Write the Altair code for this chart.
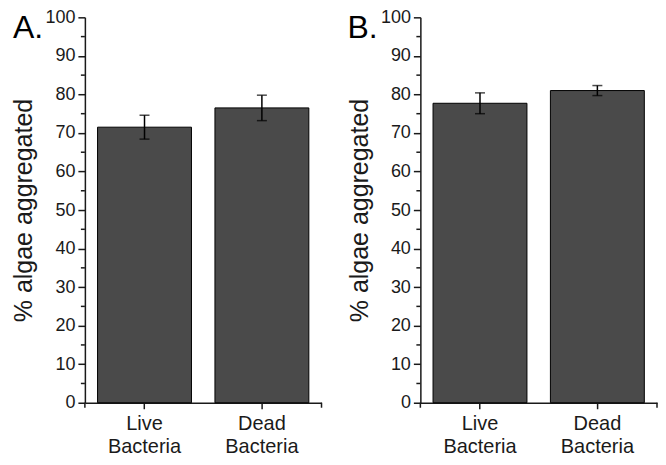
import altair as alt
import pandas as pd

categories = ["Live Bacteria", "Dead Bacteria"]
a_means = [71.5, 76.5]
a_errs = [3.1, 3.3]
b_means = [77.7, 81.0]
b_errs = [2.7, 1.3]
y_ticks = list(range(0, 101, 10))
y_minor = list(range(5, 100, 10))
panel_labels = ["A.", "B."]

FONT = "Liberation Sans"
W, H = 237, 386
INK = "#1a1a1a"

XAXIS = alt.Axis(
    title=None, labelAngle=0, labelExpr="split(datum.label, ' ')",
    labelFont=FONT, labelFontSize=20, labelLineHeight=23,
    labelColor=INK, labelPadding=5, tickSize=6, tickWidth=1.5,
    tickColor=INK, domainColor=INK, domainWidth=1.5, grid=False,
    labelBaseline="top",
)
YAXIS = alt.Axis(
    values=y_ticks, title="% algae aggregated", titleFont=FONT,
    titleFontSize=25, titleFontWeight="normal", titleColor=INK,
    titlePadding=8, labelFont=FONT, labelFontSize=18,
    labelColor=INK, labelPadding=3, tickSize=7, tickWidth=1.5,
    tickColor=INK, domainColor=INK, domainWidth=1.5, grid=False,
    labelOverlap=False,
)


def panel(means, errs, label, dx):
    df = pd.DataFrame({
        "cat": categories,
        "mean": means,
        "lo": [m - e for m, e in zip(means, errs)],
        "hi": [m + e for m, e in zip(means, errs)],
    })
    xscale = alt.Scale(domain=categories, paddingInner=0.2, paddingOuter=0.108)
    xenc = alt.X("cat:N", sort=categories, scale=xscale, axis=XAXIS)
    yscale = alt.Scale(domain=[0, 100], nice=False)
    bars = alt.Chart(df).mark_bar(
        color="#4a4a4a", stroke="#000000", strokeWidth=1
    ).encode(
        x=xenc,
        y=alt.Y("mean:Q", scale=yscale, axis=YAXIS),
    )
    err = alt.Chart(df).mark_rule(color="#000000", strokeWidth=1.5).encode(
        x=xenc, y=alt.Y("lo:Q", scale=yscale, axis=YAXIS), y2="hi:Q"
    )
    cap_lo = alt.Chart(df).mark_tick(color="#000000", size=10, thickness=1.5).encode(
        x=xenc, y=alt.Y("lo:Q", scale=yscale, axis=YAXIS)
    )
    cap_hi = alt.Chart(df).mark_tick(color="#000000", size=10, thickness=1.5).encode(
        x=xenc, y=alt.Y("hi:Q", scale=yscale, axis=YAXIS)
    )
    minor = alt.Chart(pd.DataFrame({"v": y_minor})).mark_rule(
        color=INK, strokeWidth=1.5
    ).encode(
        x=alt.value(-4), x2=alt.value(0), y=alt.Y("v:Q", scale=yscale, axis=YAXIS)
    )
    ends = alt.Chart(pd.DataFrame({"px": [0, W]})).mark_rule(
        color=INK, strokeWidth=1.5
    ).encode(
        x=alt.X("px:Q", scale=None), y=alt.value(H), y2=alt.value(H + 5)
    )
    txt = alt.Chart(pd.DataFrame({"t": [label]})).mark_text(
        font=FONT, fontSize=32, align="left", baseline="alphabetic", color="#000000"
    ).encode(
        text="t:N", x=alt.value(dx), y=alt.value(21)
    )
    return alt.layer(bars, err, cap_lo, cap_hi, minor, ends, txt).properties(
        width=W, height=H
    )


chart = alt.hconcat(
    panel(a_means, a_errs, panel_labels[0], -72),
    panel(b_means, b_errs, panel_labels[1], -73),
    spacing=24,
).properties(
    padding={"left": 3, "top": 0, "right": 0, "bottom": 0}, background="white"
).configure_view(stroke=None)

chart.save("out.html", embed_options={"renderer": "svg", "actions": False})
